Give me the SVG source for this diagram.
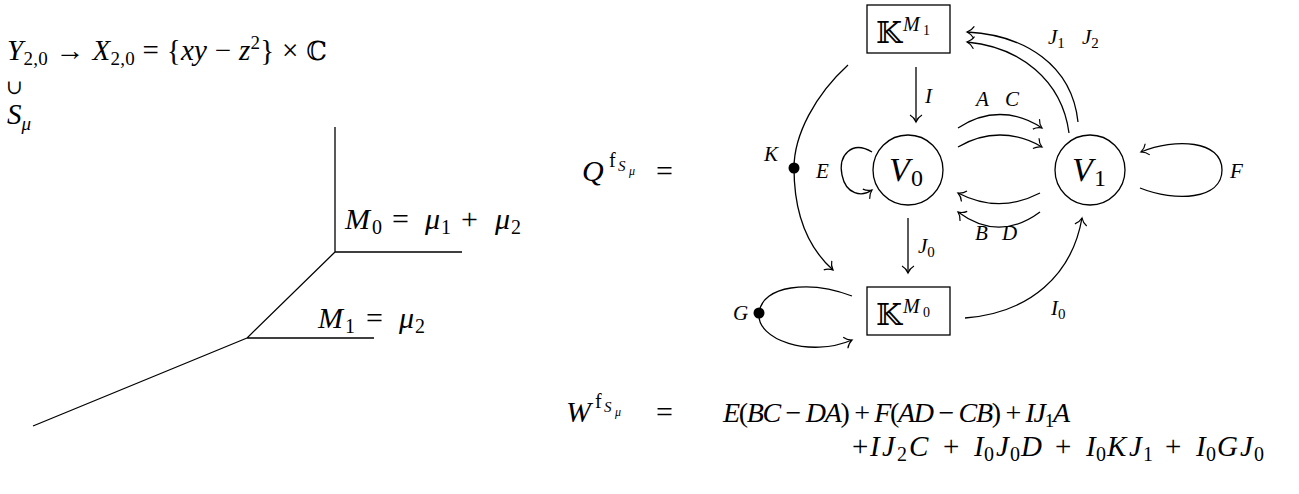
<svg xmlns="http://www.w3.org/2000/svg" width="1299" height="494" viewBox="0 0 1299 494">
<style>
.ln{stroke:#000;stroke-width:1.3;fill:none}
.t{font-family:"Liberation Serif","DejaVu Serif",serif;fill:#000}
.i{font-style:italic}
.bb{font-family:"DejaVu Serif","DejaVu Sans",serif;font-style:normal}
.lab{font-family:"Liberation Serif","DejaVu Serif",serif;font-style:italic;font-size:21px;fill:#000}
.s{font-size:20px;font-style:normal}
</style>
<defs>
<marker id="to" viewBox="-9 -7 11 14" markerWidth="11" markerHeight="14" refX="0" refY="0" orient="auto" markerUnits="userSpaceOnUse">
<path d="M-7,-6 C-5,-2.5 -1.5,-0.6 0,0 C-1.5,0.6 -5,2.5 -7,6" fill="none" stroke="#000" stroke-width="1.2"/>
</marker>
</defs>

<g id="left-text">
<text class="t" x="7" y="60" font-size="29" textLength="320" lengthAdjust="spacing"><tspan class="i">Y</tspan><tspan font-size="19" dy="5">2,0</tspan><tspan dy="-5"> → </tspan><tspan class="i">X</tspan><tspan font-size="19" dy="5">2,0</tspan><tspan dy="-5"> = {</tspan><tspan class="i">xy</tspan><tspan> − </tspan><tspan class="i">z</tspan><tspan font-size="19" dy="-11">2</tspan><tspan dy="11">} × </tspan><tspan class="bb" font-size="26">ℂ</tspan></text>
<text class="t" x="6" y="94" font-size="20">∪</text>
<text class="t" x="7" y="124" font-size="29"><tspan class="i">S</tspan><tspan class="i" font-size="19" dy="6">μ</tspan></text>
</g>

<g id="tropical-curve">
<path class="ln" d="M335,127 L335,252 L462,252 M335,252 L247,338 L374,338 M247,338 L33,426"/>
<text class="t" font-size="30"><tspan class="i" x="345" y="229">M</tspan><tspan class="s" x="372" y="234">0</tspan><tspan x="392" y="229">=</tspan><tspan class="i" x="425" y="229">μ</tspan><tspan class="s" x="441" y="234">1</tspan><tspan x="461" y="229">+</tspan><tspan class="i" x="495" y="229">μ</tspan><tspan class="s" x="511" y="234">2</tspan></text>
<text class="t" font-size="30"><tspan class="i" x="318" y="328">M</tspan><tspan class="s" x="345" y="333">1</tspan><tspan x="366" y="328">=</tspan><tspan class="i" x="399" y="328">μ</tspan><tspan class="s" x="415" y="333">2</tspan></text>
</g>

<g id="q-label">
<text class="t i" x="582" y="181" font-size="30">Q</text>
<text class="t" x="609" y="167" font-size="20">f</text>
<text class="t i" x="618" y="171" font-size="15">S</text>
<text class="t i" x="629" y="175" font-size="12">μ</text>
<text class="t" x="656" y="181" font-size="30">=</text>
</g>

<g id="connectors">
<path class="ln" marker-end="url(#to)" d="M916,67 L916,122"/>
<path class="ln" marker-end="url(#to)" d="M908,218 L908,273"/>
<path class="ln" marker-end="url(#to)" d="M958,128 C985,110 1015,110 1042,128"/>
<path class="ln" marker-end="url(#to)" d="M958,147 C985,131 1015,131 1042,147"/>
<path class="ln" marker-end="url(#to)" d="M1040,193 C1013,207 985,207 958,193"/>
<path class="ln" marker-end="url(#to)" d="M1040,212 C1013,232 985,232 958,212"/>
<path class="ln" marker-end="url(#to)" d="M1078,122 C1072,65 1025,35 967,32"/>
<path class="ln" marker-end="url(#to)" d="M1069,133 C1062,80 1020,47 967,42"/>
<path class="ln" marker-end="url(#to)" d="M965,318 C1030,313 1072,275 1082,218"/>
<path class="ln" marker-end="url(#to)" d="M848,65 C815,95 794,135 794,168 C794,210 805,245 833,270"/>
<path class="ln" marker-end="url(#to)" d="M872,152 C852,140 838,155 842,175 C846,195 862,197 872,190"/>
<path class="ln" marker-end="url(#to)" d="M1140,188 C1175,202 1222,200 1222,170 C1222,140 1175,138 1141,152"/>
<path class="ln" marker-end="url(#to)" d="M852,296 C810,280 762,285 759,313 C756,340 810,358 852,340"/>
<circle cx="794" cy="168" r="5.5" fill="#000"/>
<circle cx="759" cy="313" r="5.5" fill="#000"/>
<text class="lab" x="925" y="103">I</text>
<text class="lab" x="976" y="106">A</text>
<text class="lab" x="1005" y="106">C</text>
<text class="lab" x="1048" y="44">J<tspan font-style="normal" font-size="15" dy="4">1</tspan></text>
<text class="lab" x="1082" y="44">J<tspan font-style="normal" font-size="15" dy="4">2</tspan></text>
<text class="lab" x="975" y="240">B</text>
<text class="lab" x="1002" y="240">D</text>
<text class="lab" x="1230" y="178">F</text>
<text class="lab" x="816" y="178">E</text>
<text class="lab" x="764" y="161">K</text>
<text class="lab" x="733" y="320">G</text>
<text class="lab" x="918" y="253">J<tspan font-style="normal" font-size="15" dy="4">0</tspan></text>
<text class="lab" x="1051" y="315">I<tspan font-style="normal" font-size="15" dy="4">0</tspan></text>
</g>

<g id="node-KM1">
<rect x="867" y="5" width="83" height="48" fill="none" stroke="#000" stroke-width="1.3"/>
<text class="t bb" x="876" y="43" font-size="30">𝕂</text>
<text class="t i" x="903" y="31" font-size="20">M</text>
<text class="t" x="923" y="35" font-size="14">1</text>
</g>
<g id="node-V0">
<circle cx="908" cy="170" r="35" fill="none" stroke="#000" stroke-width="1.3"/>
<text class="t i" x="889" y="181" font-size="34">V</text>
<text class="t" x="911" y="186" font-size="24">0</text>
</g>
<g id="node-V1">
<circle cx="1090" cy="170" r="35" fill="none" stroke="#000" stroke-width="1.3"/>
<text class="t i" x="1072" y="181" font-size="34">V</text>
<text class="t" x="1094" y="186" font-size="24">1</text>
</g>
<g id="node-KM0">
<rect x="867" y="287" width="83" height="48" fill="none" stroke="#000" stroke-width="1.3"/>
<text class="t bb" x="876" y="325" font-size="30">𝕂</text>
<text class="t i" x="903" y="313" font-size="20">M</text>
<text class="t" x="923" y="317" font-size="14">0</text>
</g>

<g id="w-formula">
<text class="t i" x="566" y="422" font-size="30">W</text>
<text class="t" x="595" y="408" font-size="20">f</text>
<text class="t i" x="604" y="412" font-size="15">S</text>
<text class="t i" x="615" y="416" font-size="12">μ</text>
<text class="t" x="656" y="422" font-size="30">=</text>
<text class="t" x="723" y="422" font-size="28" textLength="347" lengthAdjust="spacing"><tspan class="i">E</tspan>(<tspan class="i">BC</tspan> − <tspan class="i">DA</tspan>) + <tspan class="i">F</tspan>(<tspan class="i">AD</tspan> − <tspan class="i">CB</tspan>) + <tspan class="i">IJ</tspan><tspan font-size="19" dy="5">1</tspan><tspan class="i" dy="-5">A</tspan></text>
<text class="t" font-size="29"><tspan x="852" y="456">+</tspan><tspan class="i" x="870" y="456">I</tspan><tspan class="i" x="882" y="456">J</tspan><tspan class="s" x="897" y="461">2</tspan><tspan class="i" x="909" y="456">C</tspan><tspan x="943" y="456">+</tspan><tspan class="i" x="974" y="456">I</tspan><tspan class="s" x="984" y="461">0</tspan><tspan class="i" x="996" y="456">J</tspan><tspan class="s" x="1010" y="461">0</tspan><tspan class="i" x="1021" y="456">D</tspan><tspan x="1055" y="456">+</tspan><tspan class="i" x="1086" y="456">I</tspan><tspan class="s" x="1096" y="461">0</tspan><tspan class="i" x="1107" y="456">K</tspan><tspan class="i" x="1129" y="456">J</tspan><tspan class="s" x="1143" y="461">1</tspan><tspan x="1165" y="456">+</tspan><tspan class="i" x="1196" y="456">I</tspan><tspan class="s" x="1206" y="461">0</tspan><tspan class="i" x="1217" y="456">G</tspan><tspan class="i" x="1240" y="456">J</tspan><tspan class="s" x="1254" y="461">0</tspan></text>
</g>
</svg>
